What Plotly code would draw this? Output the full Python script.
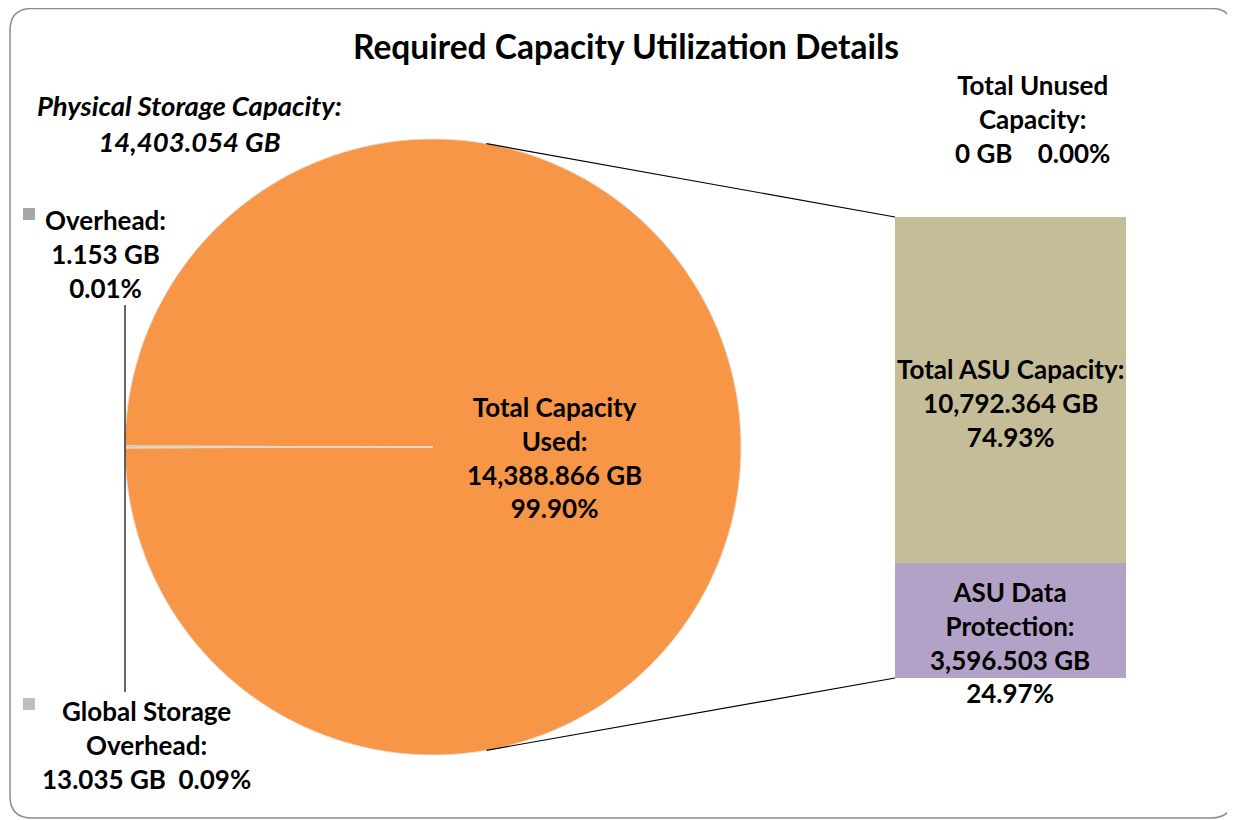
import math
import plotly.graph_objects as go

# ---- data ----
pie_labels = ["Total Capacity Used", "Overhead", "Global Storage Overhead"]
pie_values = [14388.866, 1.153, 13.035]
pie_pct = [99.90, 0.01, 0.09]
pie_colors = ["#F79646", "#A6A6A6", "#BFBFBF"]

bar_labels = ["ASU Data Protection", "Total ASU Capacity"]
bar_values = [3596.503, 10792.364]
bar_pct = [24.97, 74.93]
bar_colors = ["#B3A2C7", "#C4BD97"]

physical_capacity = 14403.054
unused_gb = 0
unused_pct = 0.00

# the page body has an 8px margin, so the figure is shifted by that much
OFF = 8
W, H = 1235 - OFF, 820 - OFF
FONT = "Lato"
FS = 26

def px(x):
    return (x - OFF) / W

def py(y):
    return 1 - (y - OFF) / H

# pie geometry (pixels in the page)
PCX, PCY, PR = 433, 447, 308
# bar geometry
BX0, BX1, BY0, BY1 = 895, 1126, 217, 678

fig = go.Figure()

fig.add_trace(go.Pie(
    labels=pie_labels, values=pie_values,
    marker=dict(colors=pie_colors, line=dict(color="#E8D8C8", width=1)),
    sort=False, direction="clockwise", rotation=270.2,
    textinfo="none", hoverinfo="label+value", showlegend=False,
    domain=dict(x=[px(PCX - PR), px(PCX + PR)], y=[py(PCY + PR), py(PCY - PR)]),
))

for lab, val, col in zip(bar_labels, bar_pct, bar_colors):
    fig.add_trace(go.Bar(
        x=[0], y=[val], name=lab, marker=dict(color=col, line=dict(width=0)),
        width=1, hoverinfo="name+y", showlegend=False,
    ))

fig.update_layout(
    width=W, height=H, barmode="stack",
    margin=dict(l=0, r=0, t=0, b=0),
    paper_bgcolor="white", plot_bgcolor="rgba(0,0,0,0)",
    font=dict(family=FONT, size=FS, color="black"),
    xaxis=dict(domain=[px(BX0), px(BX1)], range=[-0.5, 0.5], visible=False, fixedrange=True),
    yaxis=dict(domain=[py(BY1), py(BY0)], range=[0, sum(bar_pct)], visible=False, fixedrange=True),
)

def note(x, y, text, size=FS, **kw):
    fig.add_annotation(x=px(x), y=py(y), xref="paper", yref="paper", text=text,
                       showarrow=False, align="center", xanchor="center", yanchor="middle",
                       font=dict(family=FONT, size=size, color="black"), **kw)

note(626, 46, "<b>Required Capacity Utilization Details</b>", size=33.5)
note(189, 124, f"<b><i>Physical Storage Capacity:<br>{physical_capacity:,.3f} GB</i></b>", size=27.5)
note(105, 254, f"<b>Overhead:<br>{pie_values[1]:,.3f} GB<br>{pie_pct[1]:.2f}%</b>")
note(146, 745, f"<b>Global Storage<br>Overhead:<br>{pie_values[2]:,.3f} GB  {pie_pct[2]:.2f}%</b>")
note(1032, 119, f"<b>Total Unused<br>Capacity:<br>{unused_gb} GB    {unused_pct:.2f}%</b>")
note(554, 457, f"<b>Total Capacity<br>Used:<br>{pie_values[0]:,.3f} GB<br>{pie_pct[0]:.2f}%</b>")
note(1010, 403, f"<b>{bar_labels[1]}:<br>{bar_values[1]:,.3f} GB<br>{bar_pct[1]:.2f}%</b>")
note(1010, 642, f"<b>ASU Data<br>Protection:<br>{bar_values[0]:,.3f} GB<br>{bar_pct[0]:.2f}%</b>")

# legend-like gray squares
for (sx, sy), col in zip([(29, 214), (29, 704)], pie_colors[1:]):
    fig.add_shape(type="rect", xref="paper", yref="paper",
                  x0=px(sx - 6), x1=px(sx + 6), y0=py(sy + 6), y1=py(sy - 6),
                  fillcolor=col, line=dict(width=0))

# leader line between the small-slice labels
fig.add_shape(type="line", xref="paper", yref="paper",
              x0=px(125), x1=px(125), y0=py(305), y1=py(692),
              line=dict(color="black", width=1.2))

# connector lines pie -> bar
ang = math.radians(10)
dx, dy = PR * math.sin(ang), PR * math.cos(ang)
for sgn, by in [(-1, BY0), (1, BY1)]:
    fig.add_shape(type="line", xref="paper", yref="paper",
                  x0=px(PCX + dx), y0=py(PCY + sgn * dy), x1=px(BX0), y1=py(by),
                  line=dict(color="black", width=1.2))

# rounded chart border
L, T, R, B, r = 10, 8.5, 1233, 818, 22
path = (f"M {px(L + r)},{py(T)} L {px(R - r)},{py(T)} Q {px(R)},{py(T)} {px(R)},{py(T + r)} "
        f"L {px(R)},{py(B - r)} Q {px(R)},{py(B)} {px(R - r)},{py(B)} "
        f"L {px(L + r)},{py(B)} Q {px(L)},{py(B)} {px(L)},{py(B - r)} "
        f"L {px(L)},{py(T + r)} Q {px(L)},{py(T)} {px(L + r)},{py(T)} Z")
fig.add_shape(type="path", xref="paper", yref="paper", path=path,
              line=dict(color="#8C8C8C", width=1.5), layer="below")

fig.write_html("out.html")
